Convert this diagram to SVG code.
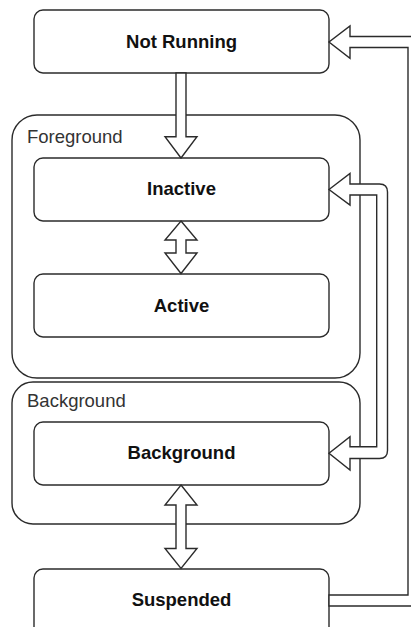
<svg xmlns="http://www.w3.org/2000/svg" width="411" height="627" viewBox="0 0 411 627">
  <style>
    .container { fill: #ffffff; stroke: #2b2b2b; stroke-width: 1.4; }
    .state { fill: #ffffff; stroke: #2b2b2b; stroke-width: 1.4; }
    .group-label { font-family: "Liberation Sans", Arial, sans-serif; font-size: 18.5px; fill: #333333; }
    .state-label { font-family: "Liberation Sans", Arial, sans-serif; font-size: 18.5px; font-weight: bold; fill: #111111; text-anchor: middle; }
    .flow { fill: #ffffff; stroke: #2b2b2b; stroke-width: 1.4; stroke-linejoin: miter; }
  </style>

  <!-- grouping containers -->
  <g id="foreground">
    <rect class="container" x="12" y="115" width="348" height="263" rx="25" ry="25"/>
    <text class="group-label" x="27" y="143">Foreground</text>
  </g>
  <g id="background-group">
    <rect class="container" x="12" y="382" width="348" height="142" rx="21" ry="21"/>
    <text class="group-label" x="27" y="406.5">Background</text>
  </g>

  <!-- application states -->
  <g id="not-running">
    <rect class="state" x="34" y="10" width="295" height="63" rx="9" ry="9"/>
    <text class="state-label" x="181.5" y="48.3">Not Running</text>
  </g>
  <g id="inactive">
    <rect class="state" x="34" y="158" width="295" height="63" rx="9" ry="9"/>
    <text class="state-label" x="181.5" y="195">Inactive</text>
  </g>
  <g id="active">
    <rect class="state" x="34" y="274" width="295" height="63" rx="9" ry="9"/>
    <text class="state-label" x="181.5" y="311.5">Active</text>
  </g>
  <g id="background">
    <rect class="state" x="34" y="422" width="295" height="63" rx="9" ry="9"/>
    <text class="state-label" x="181.5" y="458.5">Background</text>
  </g>
  <g id="suspended">
    <rect class="state" x="34" y="569" width="295" height="80" rx="9" ry="9"/>
    <text class="state-label" x="181.5" y="606">Suspended</text>
  </g>

  <!-- transitions (wide block arrows) -->
  <g id="connectors">
    <!-- Not Running -> Inactive -->
    <path class="flow" d="M176,73 L176,136.7 L165,136.7 L181,158 L197,136.7 L186,136.7 L186,73 Z"/>
    <!-- Inactive <-> Active -->
    <path class="flow" d="M181,221 L197,240 L186,240 L186,253 L197,253 L181,273.5 L165,253 L176,253 L176,240 L165,240 Z"/>
    <!-- Background <-> Suspended -->
    <path class="flow" d="M181,485 L197,505 L186,505 L186,548.5 L197,548.5 L181,568.5 L165,548.5 L176,548.5 L176,505 L165,505 Z"/>
    <!-- Inactive <-> Background -->
    <path class="flow" d="M329,189.5 L350,173.5 L350,184 L379.5,184 Q387.5,184 387.5,192 L387.5,450.5 Q387.5,458.5 379.5,458.5 L350,458.5 L350,470 L329,453.3 L350,436.7 L350,446.7 L376.7,446.7 L376.7,195 L350,195 L350,205 Z"/>
    <!-- Suspended -> Not Running -->
    <path class="flow" d="M329,595 L408,595 L408,47.5 L350,47.5 L350,58.3 L329,42 L350,26 L350,36.5 L419,36.5 L419,606 L329,606 Z"/>
  </g>
</svg>
